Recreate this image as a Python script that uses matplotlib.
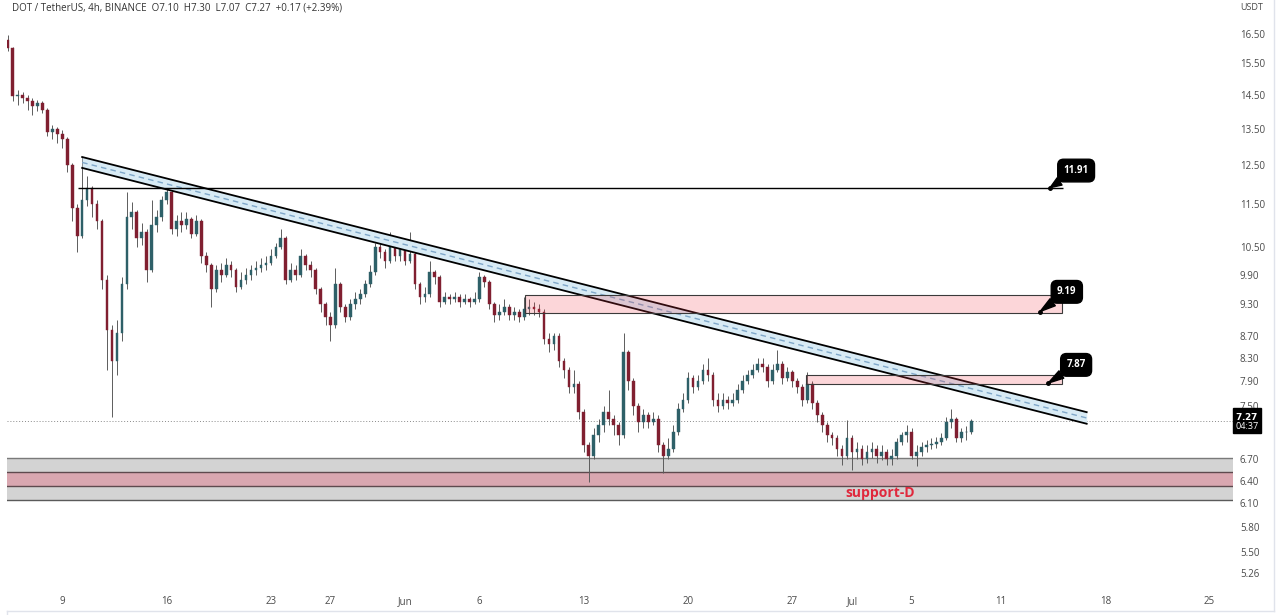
import numpy as np
import pandas as pd
import matplotlib
matplotlib.use('Agg')
import matplotlib.pyplot as plt
import matplotlib.dates as mdates
from matplotlib.patches import Rectangle
from matplotlib.lines import Line2D

plt.rcParams['font.family'] = ['Open Sans', 'DejaVu Sans']

# DOT / USDT, candles at 8h steps from 5 May 2022 08:00
first_open = 16.30
closes = [16.00, 14.45, 14.50, 14.40, 14.30, 14.15, 14.25, 14.05, 13.40, 13.50,
          13.35, 13.20, 12.50, 11.40, 10.75, 11.60, 11.90, 11.50, 11.10, 9.80,
          8.80, 8.25, 8.75, 9.70, 11.20, 11.30, 10.70, 10.85, 10.00, 11.00,
          11.20, 11.60, 11.80, 10.90, 11.10, 11.00, 11.15, 10.80, 11.10, 10.30,
          10.10, 9.60, 10.00, 9.90, 10.10, 10.00, 9.65, 9.80, 9.90, 10.00,
          10.05, 10.10, 10.15, 10.30, 10.50, 10.70, 9.80, 10.00, 9.90, 10.30,
          10.10, 10.00, 9.60, 9.30, 9.05, 8.90, 9.70, 9.25, 9.05, 9.30,
          9.40, 9.50, 9.70, 9.95, 10.50, 10.40, 10.20, 10.55, 10.30, 10.45,
          10.20, 10.35, 9.70, 9.45, 9.50, 9.95, 9.85, 9.35, 9.45, 9.40,
          9.45, 9.35, 9.40, 9.35, 9.40, 9.85, 9.75, 9.30, 9.10, 9.15,
          9.25, 9.10, 9.15, 9.05, 9.20, 9.25, 9.20, 9.15, 8.65, 8.55,
          8.70, 8.25, 8.10, 7.80, 7.85, 7.40, 6.90, 6.75, 7.05, 7.20,
          7.40, 7.30, 7.20, 7.05, 8.40, 7.90, 7.50, 7.25, 7.35, 7.25,
          7.30, 6.90, 6.75, 6.85, 7.10, 7.45, 7.60, 7.95, 7.80, 7.90,
          8.10, 8.00, 7.60, 7.50, 7.60, 7.55, 7.60, 7.75, 7.90, 8.00,
          8.10, 8.20, 8.15, 7.90, 8.10, 8.20, 7.95, 8.05, 7.90, 7.80,
          7.60, 7.85, 7.55, 7.35, 7.20, 7.05, 7.00, 6.85, 6.75, 7.00,
          6.80, 6.85, 6.70, 6.80, 6.85, 6.75, 6.80, 6.70, 6.75, 6.95,
          7.05, 7.10, 6.75, 6.80, 6.88, 6.90, 6.92, 6.95, 7.00, 7.25,
          7.30, 7.00, 7.10, 7.10, 7.27]
highs = [16.45, 16.05, 14.65, 14.60, 14.50, 14.40, 14.35, 14.30, 14.10, 13.60,
         13.55, 13.45, 13.25, 12.55, 11.50, 12.70, 12.20, 11.95, 11.60, 11.15,
         9.90, 8.90, 9.00, 9.85, 11.80, 11.55, 11.35, 11.05, 10.90, 11.60,
         11.35, 11.70, 12.00, 11.85, 11.25, 11.30, 11.30, 11.20, 11.25, 11.15,
         10.40, 10.15, 10.10, 10.15, 10.25, 10.20, 10.05, 9.95, 10.05, 10.10,
         10.20, 10.25, 10.30, 10.45, 10.60, 10.90, 10.75, 10.15, 10.10, 10.45,
         10.35, 10.20, 10.05, 9.65, 9.35, 9.15, 10.05, 9.75, 9.30, 9.40,
         9.55, 9.60, 9.80, 10.10, 10.60, 10.70, 10.45, 10.85, 10.60, 10.55,
         10.50, 10.85, 10.40, 9.75, 9.65, 10.20, 10.00, 9.90, 9.55, 9.50,
         9.55, 9.50, 9.50, 9.45, 9.55, 9.95, 9.90, 9.80, 9.35, 9.30,
         9.40, 9.30, 9.25, 9.20, 9.45, 9.40, 9.35, 9.30, 9.20, 8.75,
         8.75, 8.75, 8.30, 8.15, 8.10, 7.90, 7.45, 6.95, 7.15, 7.30,
         7.50, 7.75, 7.35, 7.25, 8.75, 8.45, 7.95, 7.55, 7.45, 7.40,
         7.40, 7.35, 6.95, 7.00, 7.20, 7.55, 7.70, 8.05, 8.00, 8.00,
         8.20, 8.30, 8.05, 7.70, 7.70, 7.65, 7.70, 7.85, 8.00, 8.10,
         8.20, 8.30, 8.30, 8.20, 8.20, 8.45, 8.25, 8.15, 8.10, 7.95,
         7.85, 8.05, 7.90, 7.60, 7.40, 7.25, 7.10, 7.05, 6.90, 7.28,
         7.05, 6.95, 6.90, 6.90, 6.95, 6.90, 6.90, 6.85, 6.85, 7.00,
         7.10, 7.20, 7.15, 6.90, 6.95, 6.97, 7.00, 7.02, 7.08, 7.32,
         7.45, 7.32, 7.15, 7.18, 7.30]
lows = [15.90, 14.30, 14.20, 14.25, 14.05, 13.90, 14.00, 13.95, 13.30, 13.20,
        13.10, 12.95, 12.30, 11.10, 10.40, 10.70, 11.45, 11.20, 10.90, 9.60,
        8.10, 7.32, 8.00, 8.60, 9.60, 10.90, 10.50, 10.55, 9.75, 9.95,
        10.85, 11.10, 11.50, 10.80, 10.75, 10.85, 10.90, 10.70, 10.75, 10.15,
        9.95, 9.25, 9.55, 9.75, 9.85, 9.85, 9.55, 9.60, 9.70, 9.80,
        9.90, 9.95, 10.00, 10.10, 10.25, 10.45, 9.70, 9.75, 9.80, 9.85,
        10.00, 9.85, 9.50, 9.15, 8.90, 8.60, 8.85, 9.15, 8.95, 9.00,
        9.20, 9.30, 9.45, 9.65, 9.90, 10.25, 10.05, 10.15, 10.20, 10.20,
        10.10, 10.15, 9.60, 9.30, 9.35, 9.45, 9.70, 9.25, 9.30, 9.30,
        9.35, 9.25, 9.30, 9.25, 9.30, 9.35, 9.65, 9.20, 8.95, 9.00,
        9.10, 9.00, 9.00, 8.95, 9.00, 9.10, 9.10, 9.05, 8.55, 8.40,
        8.45, 8.15, 7.95, 7.70, 7.70, 7.30, 6.80, 6.38, 6.70, 6.95,
        7.10, 7.20, 7.05, 6.90, 7.00, 7.75, 7.35, 7.10, 7.15, 7.15,
        7.20, 6.80, 6.50, 6.70, 6.80, 7.05, 7.40, 7.55, 7.70, 7.75,
        7.85, 7.90, 7.50, 7.40, 7.45, 7.45, 7.50, 7.55, 7.70, 7.85,
        7.95, 8.05, 8.05, 7.80, 7.85, 8.05, 7.85, 7.90, 7.80, 7.70,
        7.50, 7.55, 7.45, 7.25, 7.10, 6.95, 6.90, 6.75, 6.62, 6.70,
        6.55, 6.70, 6.62, 6.65, 6.72, 6.65, 6.68, 6.62, 6.62, 6.70,
        6.90, 6.95, 6.70, 6.60, 6.75, 6.80, 6.84, 6.86, 6.90, 6.98,
        7.15, 6.95, 6.95, 6.98, 7.07]

price_ticks = [16.50, 15.50, 14.50, 13.50, 12.50, 11.50, 10.50, 9.90, 9.30, 8.70,
               8.30, 7.90, 7.50, 6.70, 6.40, 6.10, 5.80, 5.50, 5.26]
time_ticks = ['2022-05-09', '2022-05-16', '2022-05-23', '2022-05-27', '2022-06-01',
              '2022-06-06', '2022-06-13', '2022-06-20', '2022-06-27', '2022-07-01',
              '2022-07-05', '2022-07-11', '2022-07-18', '2022-07-25']
time_labels = ['9', '16', '23', '27', 'Jun', '6', '13', '20', '27', 'Jul', '5', '11', '18', '25']

last_price = 7.27
level_line = 11.91
zone_919 = (9.13, 9.49)
zone_787 = (7.86, 8.01)
support_grey = (6.14, 6.71)
support_pink = (6.33, 6.52)
channel_upper = (12.71, 7.40)
channel_lower = (12.42, 7.22)


def dn(s):
    return mdates.date2num(pd.Timestamp(s).to_pydatetime())


times = pd.date_range('2022-05-05 08:00', periods=len(closes), freq='8h')
t = mdates.date2num(times.to_pydatetime())
c = np.array(closes)
o = np.r_[first_open, c[:-1]]
h = np.array(highs)
l = np.array(lows)

fig = plt.figure(figsize=(12.8, 6.15), dpi=100)
W, H = 1280, 615
ax = fig.add_axes([7 / W, (H - 588) / H, (1233 - 7) / W, 588 / H])

ax.set_yscale('log')
ax.set_ylim(5.097, 17.73)
jun1 = dn('2022-06-01')
ax.set_xlim(jun1 - 26.71, jun1 + 55.57)

# support zone
ax.axhspan(support_grey[0], support_grey[1], color='#d3d3d3', zorder=0, lw=0)
ax.axhspan(support_pink[0], support_pink[1], color='#d9a7b0', zorder=0.5, lw=0)
for lev, col in [(support_grey[1], '#7a7a7a'), (support_pink[1], '#5e4a4e'),
                 (support_pink[0], '#5e4a4e'), (support_grey[0], '#5a5a5a')]:
    ax.axhline(lev, color=col, lw=1.0, zorder=0.6)
ax.text(dn('2022-07-02 21:00'), 6.23, 'support-D', color='#e0283c', fontsize=10,
        fontweight='bold', ha='center', va='center', zorder=6)

# last price dotted line
ax.axhline(last_price, color='#8a8a8a', lw=0.7, ls=(0, (1, 2)), zorder=1)

# candles
up = c >= o
body_col = np.where(up, '#2e6068', '#801f30')
ax.vlines(t, l, h, color='#5c5c5c', lw=0.7, zorder=2)
ax.bar(t, np.abs(c - o), bottom=np.minimum(o, c), width=0.18, color=body_col,
       edgecolor=body_col, lw=0.3, zorder=3)

# falling channel
cx = [dn('2022-05-10 08:00'), dn('2022-07-16 18:00')]
ax.fill_between(cx, channel_lower, channel_upper, color='#d8ebf5', zorder=3.5, lw=0)
ax.plot(cx, channel_upper, color='black', lw=1.3, zorder=4)
ax.plot(cx, channel_lower, color='black', lw=1.3, zorder=4)
mid = np.sqrt(np.array(channel_upper) * np.array(channel_lower))
ax.plot(cx, mid, color='#7fa7c9', lw=1.0, ls=(0, (4, 3)), zorder=4)

# horizontal level
ax.hlines(level_line, dn('2022-05-10 01:00'), dn('2022-07-15 04:00'), color='black', lw=1.0, zorder=4)

# resistance boxes
for lo, hi, start in [(zone_919[0], zone_919[1], '2022-06-09 01:00'),
                      (zone_787[0], zone_787[1], '2022-06-27 22:00')]:
    x0 = dn(start)
    x1 = dn('2022-07-15 02:00')
    ax.add_patch(Rectangle((x0, lo), x1 - x0, hi - lo, facecolor=(0.95, 0.21, 0.27, 0.2),
                           edgecolor='#3a3a3a', lw=0.8, zorder=5))

# callouts
for txt, tip, box in [('11.91', (dn('2022-07-14 07:00'), 11.91), (dn('2022-07-16 01:00'), 12.35)),
                      ('9.19', (dn('2022-07-13 15:00'), 9.16), (dn('2022-07-15 10:00'), 9.55)),
                      ('7.87', (dn('2022-07-14 04:00'), 7.87), (dn('2022-07-16 01:00'), 8.18))]:
    ax.annotate(txt, xy=tip, xytext=box, color='white', fontsize=7, fontweight='bold',
                ha='center', va='center', zorder=7,
                bbox=dict(boxstyle='round,pad=0.6', fc='black', ec='black'),
                arrowprops=dict(arrowstyle='wedge,tail_width=0.9', fc='black', ec='black',
                                shrinkA=0, shrinkB=0))
    ax.plot(*tip, 'o', color='black', ms=2.5, zorder=7)

# axes styling
for s in ax.spines.values():
    s.set_visible(False)
ax.yaxis.tick_right()
ax.set_yticks(price_ticks, labels=[f'{p:.2f}' for p in price_ticks])
ax.minorticks_off()
ax.set_xticks([dn(d) for d in time_ticks], labels=time_labels)
ax.tick_params(axis='both', length=0, labelsize=7, labelcolor='#4a4a4a')
ax.tick_params(axis='y', pad=5)
ax.tick_params(axis='x', pad=6)

# current price tag
ax.text(1.002, last_price, r'$\mathbf{7.27}$' + '\n04:37', transform=ax.get_yaxis_transform(),
        ha='left', va='center', fontsize=6.5, color='white', linespacing=1.0,
        bbox=dict(boxstyle='square,pad=0.25', fc='black', ec='black'), zorder=8, clip_on=False)

fig.text(1240 / W, 1 - 8 / H, 'USDT', fontsize=6.5, color='#4a4a4a', va='center')
fig.text(12 / W, 1 - 8 / H, 'DOT / TetherUS, 4h, BINANCE  O7.10  H7.30  L7.07  C7.27  +0.17 (+2.39%)',
         fontsize=7, color='#333333', va='center')

# pane border
for xs, ys in [([7 / W, 7 / W], [0, 1 - 611 / H]), ([7 / W, 1274 / W], [1 - 611 / H, 1 - 611 / H]),
               ([1274 / W, 1274 / W], [1 - 611 / H, 1])]:
    fig.add_artist(Line2D(xs, ys, color='#e0e3eb', lw=1.0))

fig.savefig('out.png', dpi=100, facecolor='white')
